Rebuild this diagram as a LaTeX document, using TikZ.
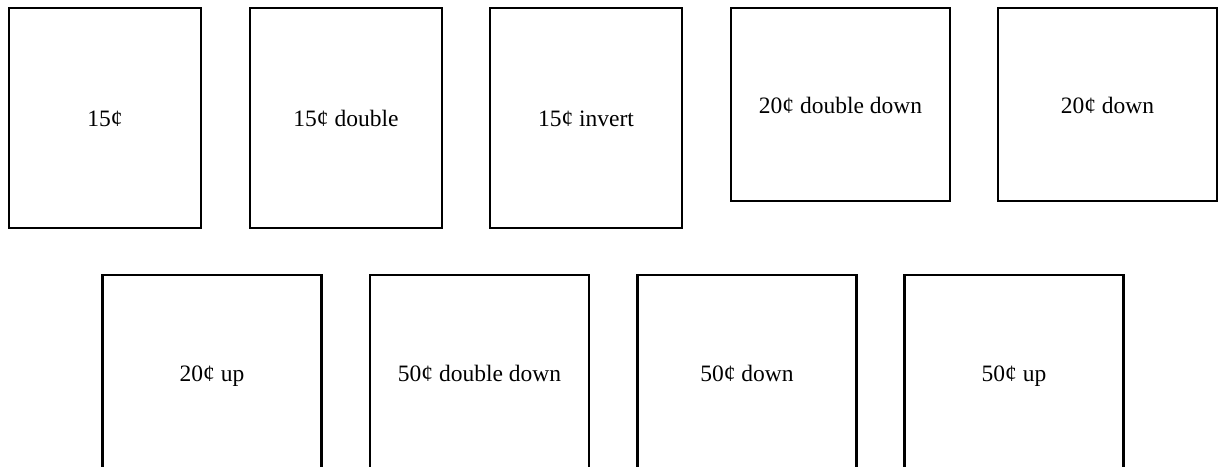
\documentclass[tikz,border=0pt]{standalone}
\usepackage{fontspec}
\setmainfont{Liberation Serif}
\usepackage{tikz}

\tikzset{
  stamp/.style={draw=black, line width=2.4pt, fill=white, align=center,
    font=\fontsize{23.5}{28}\selectfont, inner sep=0pt,
    text height=18pt, text depth=1pt},
  tallstamp/.style={stamp, minimum width=192pt, minimum height=220pt},
  widestamp/.style={stamp, minimum width=219pt, minimum height=193pt},
  lowstamp/.style={stamp, minimum width=219pt, minimum height=196pt}
}

\begin{document}
\begin{tikzpicture}[x=1pt, y=-1pt]
  \clip (0,0) rectangle (1220,466);
  \fill[white] (0,0) rectangle (1220,466);

  % Top row: 15 cent and 20 cent
  \node[tallstamp] (fifteen) at (105,118) {15¢};
  \node[tallstamp] (fifteendouble) at (346,118) {15¢ double};
  \node[tallstamp] (fifteeninvert) at (586,118) {15¢ invert};
  \node[widestamp] (twentydoubledown) at (840.5,104.5) {20¢ double down};
  \node[widestamp] (twentydown) at (1107.5,104.5) {20¢ down};

  % Bottom row: 20 cent and 50 cent
  \node[lowstamp] (twentyup) at (212,373) {20¢ up};
  \node[lowstamp] (fiftydoubledown) at (479.5,373) {50¢ double down};
  \node[lowstamp] (fiftydown) at (747,373) {50¢ down};
  \node[lowstamp] (fiftyup) at (1014,373) {50¢ up};
\end{tikzpicture}
\end{document}
